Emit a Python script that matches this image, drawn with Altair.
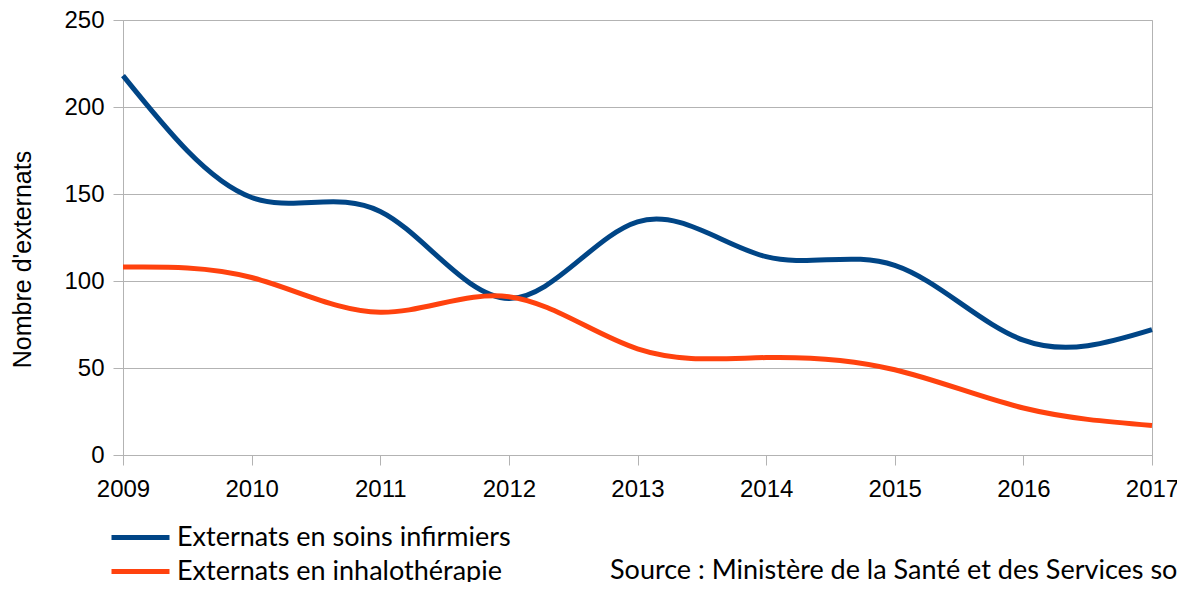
import altair as alt
import pandas as pd

years = [2009, 2010, 2011, 2012, 2013, 2014, 2015, 2016, 2017]
soins = [218, 148, 140, 90, 134, 114, 109, 66, 72]
inhalo = [108, 102, 82, 91, 61, 56, 49, 27, 17]
series = ["Externats en soins infirmiers", "Externats en inhalothérapie"]
colors = ["#004586", "#ff420e"]
y_ticks = [0, 50, 100, 150, 200, 250]
source_text = "Source : Ministère de la Santé et des Services sociaux"

rows = []
for y, a, b in zip(years, soins, inhalo):
    rows.append({"annee": y, "serie": series[0], "valeur": a})
    rows.append({"annee": y, "serie": series[1], "valeur": b})
df = pd.DataFrame(rows)

grey = "#b3b3b3"

lines = alt.Chart(df).mark_line(interpolate="natural", strokeWidth=5).encode(
    x=alt.X("annee:Q",
            scale=alt.Scale(domain=[years[0], years[-1]], nice=False, zero=False),
            axis=alt.Axis(values=years, format="d", title=None, grid=False,
                          domainColor=grey, tickColor=grey, tickSize=10,
                          labelFont="Liberation Sans", labelFontSize=24,
                          labelColor="#000000", labelPadding=12,
                          labelFlush=False, labelOverlap=False)),
    y=alt.Y("valeur:Q",
            scale=alt.Scale(domain=[0, 250], nice=False),
            axis=alt.Axis(values=y_ticks, title="Nombre d'externats",
                          grid=True, gridColor=grey, domainColor=grey,
                          tickColor=grey, tickSize=10,
                          labelFont="Liberation Sans", labelFontSize=24,
                          labelColor="#000000", labelPadding=9,
                          titleFont="Liberation Sans", titleFontSize=25,
                          titleFontWeight="normal", titleColor="#000000",
                          titleAngle=270, titleBaseline="alphabetic",
                          titleAlign="center", titleX=-93, titleY=239)),
    color=alt.Color("serie:N",
                    scale=alt.Scale(domain=series, range=colors),
                    legend=alt.Legend(title=None, orient="none",
                                      legendX=-14, legendY=505,
                                      direction="vertical",
                                      symbolType="stroke", symbolSize=3364,
                                      symbolStrokeWidth=5, clipHeight=25,
                                      labelFont="Lato", labelFontSize=27,
                                      labelColor="#000000", labelOffset=5,
                                      rowPadding=6, labelLimit=600)),
)

src = alt.Chart(pd.DataFrame({"t": [source_text]})).mark_text(
    font="Lato", fontSize=27, align="left", baseline="alphabetic",
    color="#000000", limit=575, ellipsis="\u200b"
).encode(text="t:N", x=alt.value(487), y=alt.value(559))

chart = alt.layer(lines, src).properties(
    width=1029, height=435,
    autosize=alt.AutoSizeParams(type="none"),
    padding={"left": 115, "top": 12, "right": 25, "bottom": 127},
    background="#ffffff",
).configure_view(stroke=grey, strokeWidth=1)

chart.save("out.html", embed_options={"renderer": "svg", "actions": False})
